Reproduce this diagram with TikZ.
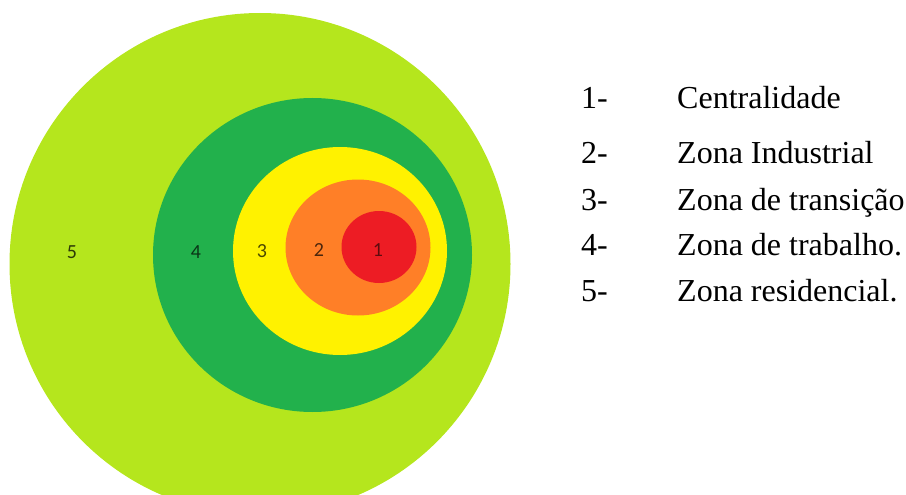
\documentclass[tikz,border=0pt]{standalone}
\usepackage{fontspec}
\setmainfont{Liberation Serif}
\newfontfamily\zonefont{Carlito}
\usepackage{xcolor}
\usepackage{tikz}

\definecolor{zonefive}{HTML}{B5E61D}
\definecolor{zonefour}{HTML}{22B14C}
\definecolor{zonethree}{HTML}{FFF200}
\definecolor{zonetwo}{HTML}{FF7F27}
\definecolor{zoneone}{HTML}{ED1C24}

\begin{document}
\begin{tikzpicture}[x=1pt,y=-1pt]
			\tikzset{zonenum/.style={inner sep=0pt,font=\zonefont\fontsize{20}{20}\selectfont},
				legnum/.style={anchor=base west,inner sep=0pt,font=\fontsize{32}{36}\selectfont}}
			\useasboundingbox (0,0) rectangle (906,495);
			\clip (0,0) rectangle (906,495);
			
			% concentric zones
			\fill[zonefive] (260,264) ellipse (250.5 and 251);
			\fill[zonefour] (312.5,255) ellipse (159.5 and 157);
			\fill[zonethree] (340,251) ellipse (107 and 104);
			\fill[zonetwo] (358,247.5) ellipse (72.5 and 68);
			\fill[zoneone] (379,247) ellipse (37.5 and 36);
			
			\node[zonenum,text=zonefive!25!black] (z5) at (72,252) {5};
			\node[zonenum,text=zonefour!30!black] (z4) at (196,252) {4};
			\node[zonenum,text=zonethree!30!black] (z3) at (262,251) {3};
			\node[zonenum,text=zonetwo!30!black] (z2) at (319,250) {2};
			\node[zonenum,text=zoneone!40!black] (z1) at (378,250) {1};
			
			% legend
			\foreach \i/\y/\txt in {1/109/Centralidade,2/164/Zona Industrial,3/210/Zona de transição,4/255/Zona de trabalho.,5/301/Zona residencial.}{
				\node[legnum] (num\i) at (581,\y) {\i-};
				\node[legnum] (leg\i) at (677,\y) {\txt};
			}
		\end{tikzpicture}
\end{document}
